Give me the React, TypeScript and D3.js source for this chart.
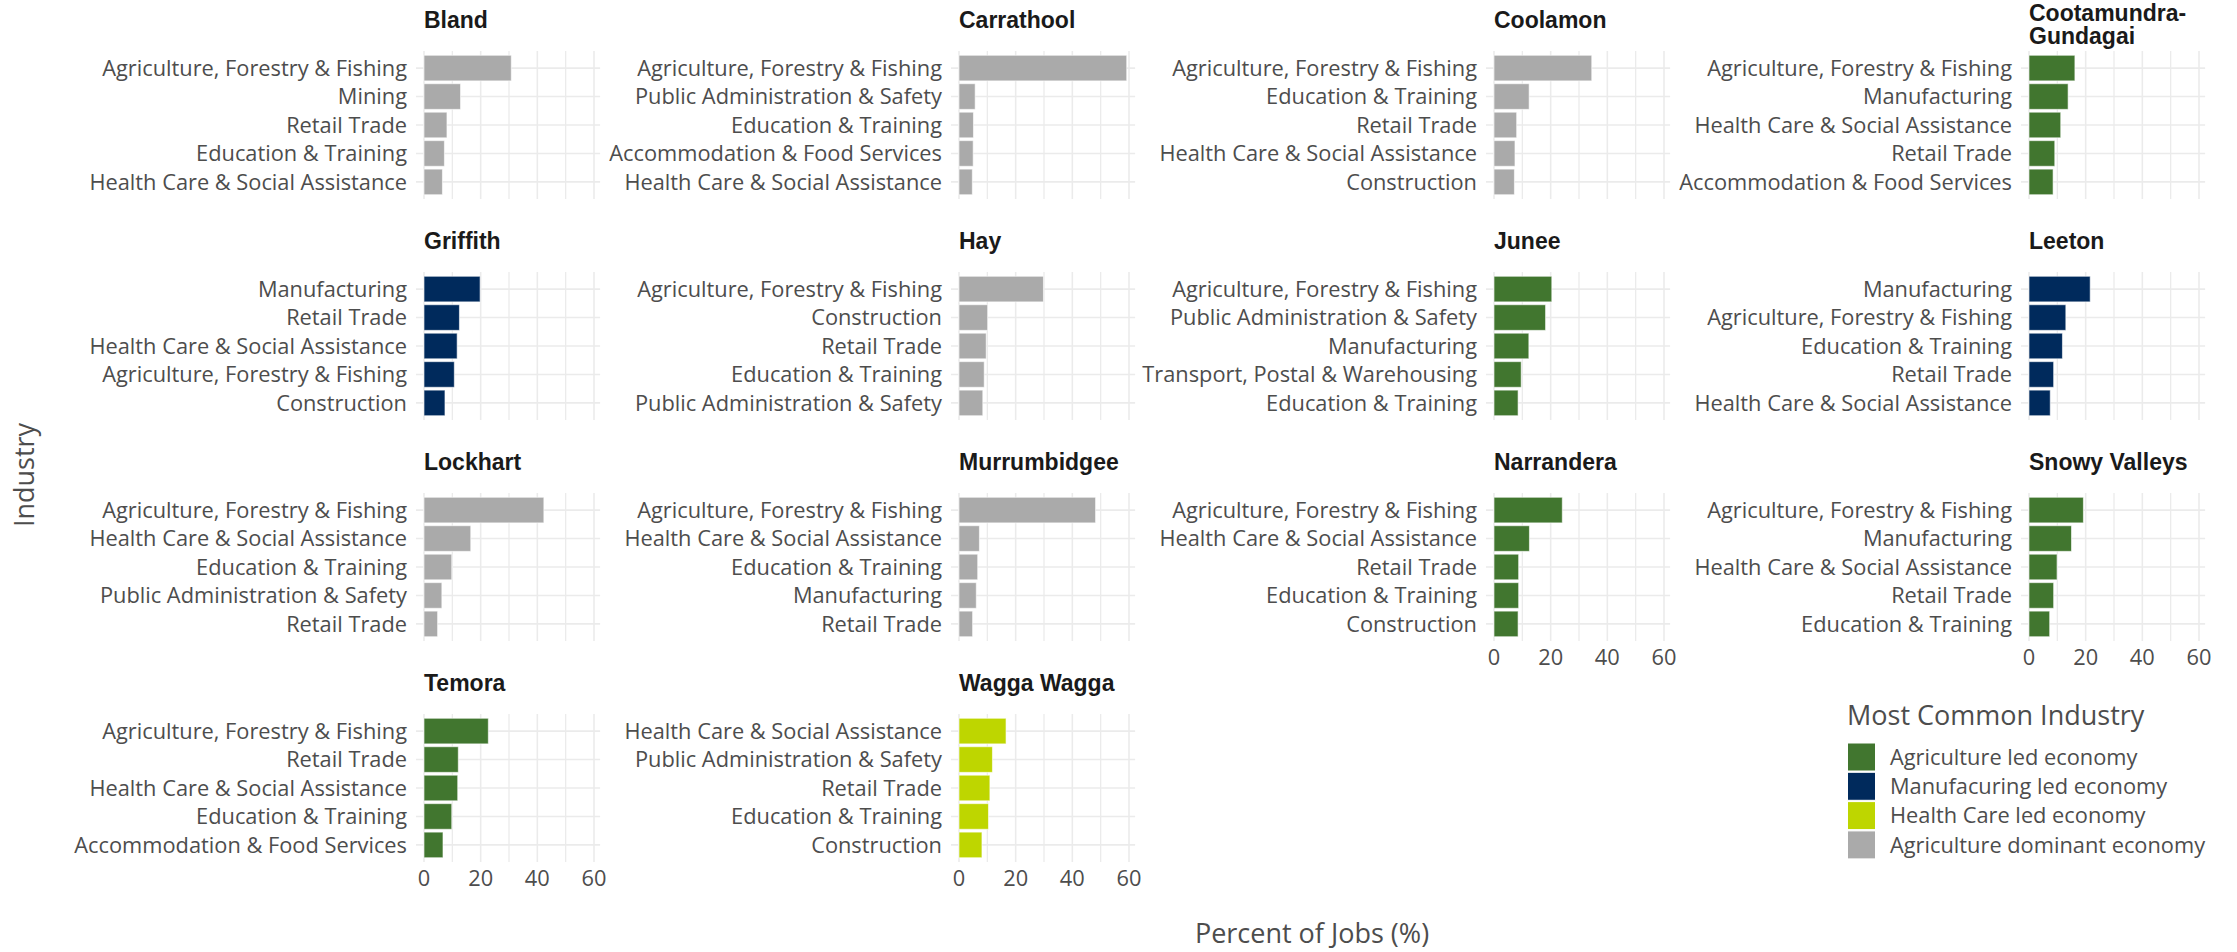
import React from 'react';
import * as d3 from 'd3';

// local government areas, in facet order
const lgas = [
  'Bland', 'Carrathool', 'Coolamon', 'Cootamundra-Gundagai',
  'Griffith', 'Hay', 'Junee', 'Leeton',
  'Lockhart', 'Murrumbidgee', 'Narrandera', 'Snowy Valleys',
  'Temora', 'Wagga Wagga'
];

// economy type for each LGA (index into legendLabels)
const lgaType = [3, 3, 3, 0, 1, 3, 0, 1, 3, 3, 0, 0, 0, 2];

// top five industries per LGA
const industries = [
  ['Agriculture, Forestry & Fishing', 'Mining', 'Retail Trade', 'Education & Training', 'Health Care & Social Assistance'],
  ['Agriculture, Forestry & Fishing', 'Public Administration & Safety', 'Education & Training', 'Accommodation & Food Services', 'Health Care & Social Assistance'],
  ['Agriculture, Forestry & Fishing', 'Education & Training', 'Retail Trade', 'Health Care & Social Assistance', 'Construction'],
  ['Agriculture, Forestry & Fishing', 'Manufacturing', 'Health Care & Social Assistance', 'Retail Trade', 'Accommodation & Food Services'],
  ['Manufacturing', 'Retail Trade', 'Health Care & Social Assistance', 'Agriculture, Forestry & Fishing', 'Construction'],
  ['Agriculture, Forestry & Fishing', 'Construction', 'Retail Trade', 'Education & Training', 'Public Administration & Safety'],
  ['Agriculture, Forestry & Fishing', 'Public Administration & Safety', 'Manufacturing', 'Transport, Postal & Warehousing', 'Education & Training'],
  ['Manufacturing', 'Agriculture, Forestry & Fishing', 'Education & Training', 'Retail Trade', 'Health Care & Social Assistance'],
  ['Agriculture, Forestry & Fishing', 'Health Care & Social Assistance', 'Education & Training', 'Public Administration & Safety', 'Retail Trade'],
  ['Agriculture, Forestry & Fishing', 'Health Care & Social Assistance', 'Education & Training', 'Manufacturing', 'Retail Trade'],
  ['Agriculture, Forestry & Fishing', 'Health Care & Social Assistance', 'Retail Trade', 'Education & Training', 'Construction'],
  ['Agriculture, Forestry & Fishing', 'Manufacturing', 'Health Care & Social Assistance', 'Retail Trade', 'Education & Training'],
  ['Agriculture, Forestry & Fishing', 'Retail Trade', 'Health Care & Social Assistance', 'Education & Training', 'Accommodation & Food Services'],
  ['Health Care & Social Assistance', 'Public Administration & Safety', 'Retail Trade', 'Education & Training', 'Construction']
];

// percent of jobs, same order as industries
const shares = [
  [30.8, 12.9, 8.1, 7.2, 6.5],
  [59.2, 5.7, 5.1, 5.0, 4.7],
  [34.5, 12.4, 8.0, 7.4, 7.2],
  [16.2, 13.8, 11.2, 9.1, 8.5],
  [19.8, 12.5, 11.7, 10.7, 7.4],
  [29.8, 10.1, 9.6, 8.9, 8.4],
  [20.4, 18.2, 12.3, 9.6, 8.5],
  [21.6, 13.0, 11.8, 8.7, 7.5],
  [42.3, 16.5, 9.8, 6.3, 4.8],
  [48.2, 7.2, 6.6, 6.1, 4.8],
  [24.1, 12.5, 8.7, 8.7, 8.5],
  [19.2, 15.0, 9.9, 8.7, 7.3],
  [22.7, 12.1, 11.9, 9.8, 6.7],
  [16.6, 11.8, 10.9, 10.4, 8.1]
];

const xTicks = [0, 20, 40, 60];
const xMinor = [10, 30, 50];

const legendLabels = ['Agriculture led economy', 'Manufacuring led economy', 'Health Care led economy', 'Agriculture dominant economy'];
const legendColors = ['#41762F', '#002A5C', '#BED600', '#AAAAAA'];

const W = 2237;
const H = 952;
const nCol = 4;
const panelLeft0 = 424;
const colStep = 535;
const panelTop0 = 51;
const rowStep = 221;
const panelH = 148;
const unit = 170 / 60; // px per percent

const sans = '"Open Sans", "DejaVu Sans", sans-serif';
const titleFont = '"Liberation Sans", Arial, sans-serif';
const textCol = '#4D4D4D';
const gridCol = '#EBEBEB';

export default function App() {
  const xMax = d3.max(shares.flat())! * 1.05;
  const panelW = xMax * unit;
  const x = d3.scaleLinear().domain([0, xMax]).range([0, panelW]);
  const color = d3.scaleOrdinal<number, string>().domain([0, 1, 2, 3]).range(legendColors);
  const n = lgas.length;

  return (
    <div style={{ position: 'absolute', left: 0, top: 0 }}>
      <svg width={W} height={H} style={{ display: 'block', background: '#fff' }}>
        {lgas.map((name, i) => {
          const col = i % nCol;
          const row = Math.floor(i / nCol);
          const left = panelLeft0 + col * colStep;
          const top = panelTop0 + row * rowStep;
          const y = d3.scaleBand().domain(industries[i]).range([0, panelH]).paddingInner(0.1).paddingOuter(0.15);
          const showAxis = i + nCol >= n;
          const lines = name.includes('-') ? [name.split('-')[0] + '-', name.split('-')[1]] : [name];
          return (
            <g key={name} transform={`translate(${left},${top})`}>
              {lines.length === 1 ? (
                <text x={0} y={-23} fontFamily={titleFont} fontWeight="bold" fontSize={23} fill="#1A1A1A">{name}</text>
              ) : (
                lines.map((l, k) => (
                  <text key={k} x={0} y={-30 + k * 23} fontFamily={titleFont} fontWeight="bold" fontSize={23} fill="#1A1A1A">{l}</text>
                ))
              )}
              {xMinor.concat(xTicks).map(t => (
                <line key={'v' + t} x1={x(t)} x2={x(t)} y1={0} y2={panelH} stroke={gridCol} strokeWidth={xTicks.includes(t) ? 1.6 : 1.3} />
              ))}
              {industries[i].map(ind => (
                <g key={'h' + ind}>
                  <line x1={-8} x2={panelW} y1={y(ind)! + y.bandwidth() / 2} y2={y(ind)! + y.bandwidth() / 2} stroke={gridCol} strokeWidth={1.6} />
                  <text x={-17} y={y(ind)! + y.bandwidth() / 2} dy="0.35em" textAnchor="end" fontFamily={sans} fontSize={21.8} fill={textCol}>{ind}</text>
                </g>
              ))}
              {shares[i].map((v, k) => (
                <rect key={'b' + k} x={x(0)} y={y(industries[i][k])!} width={x(v) - x(0)} height={y.bandwidth()}
                  fill={color(lgaType[i])} stroke="#FFFFFF" strokeOpacity={0.6} strokeWidth={1} />
              ))}
              {showAxis && xTicks.map(t => (
                <text key={'t' + t} x={x(t)} y={panelH + 16} dy="0.35em" textAnchor="middle" fontFamily={sans} fontSize={21.8} fill={textCol}>{t}</text>
              ))}
            </g>
          );
        })}

        <text transform={`translate(25,475) rotate(-90)`} textAnchor="middle" dy="0.35em" fontFamily={sans} fontSize={27} fill={textCol}>Industry</text>
        <text x={1312} y={934} textAnchor="middle" dy="0.35em" fontFamily={sans} fontSize={27} fill={textCol}>Percent of Jobs (%)</text>

        <g transform="translate(1847,0)">
          <text x={0} y={725} fontFamily={sans} fontSize={27} fill={textCol}>Most Common Industry</text>
          {legendLabels.map((l, k) => (
            <g key={l} transform={`translate(0,${742.5 + k * 29.3})`}>
              <rect x={0.5} y={0.5} width={28} height={28} fill={legendColors[k]} stroke="#FFFFFF" strokeWidth={1} />
              <text x={43} y={14.5} dy="0.35em" fontFamily={sans} fontSize={21.8} fill={textCol}>{l}</text>
            </g>
          ))}
        </g>
      </svg>
    </div>
  );
}
